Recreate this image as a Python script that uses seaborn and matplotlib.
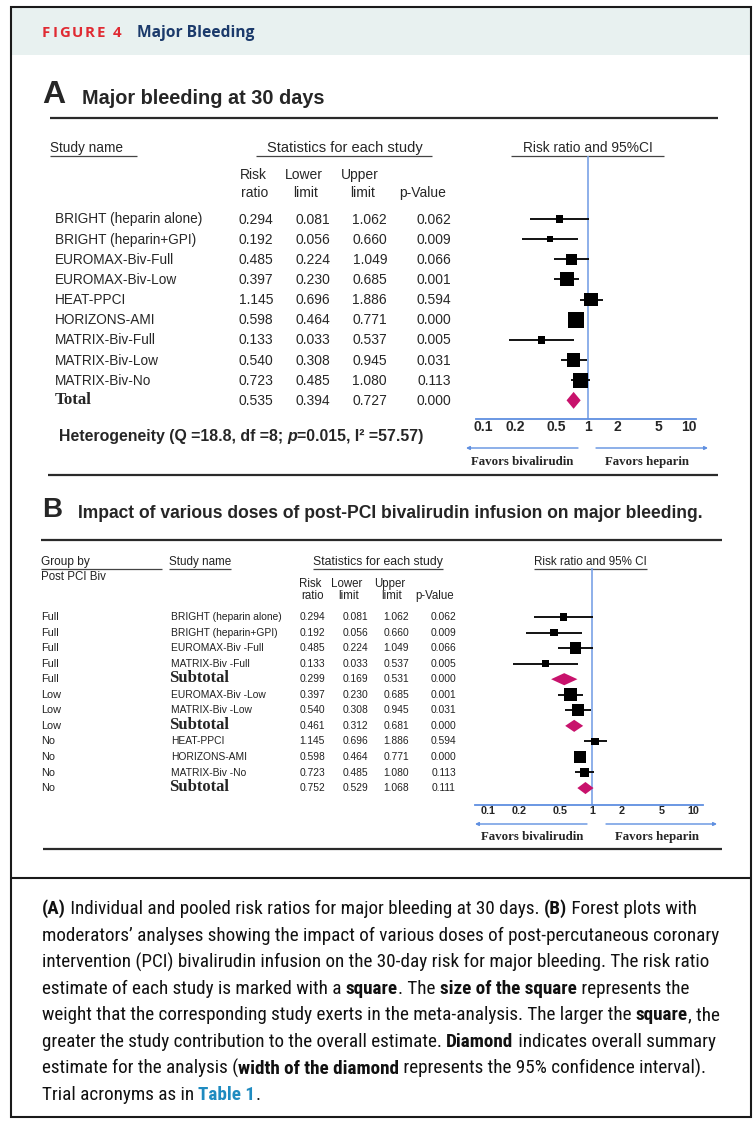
import numpy as np
import pandas as pd
import matplotlib
matplotlib.use("Agg")
import matplotlib.pyplot as plt
import seaborn as sns
from matplotlib import font_manager

# ------------------------------ data, panel A ------------------------------
studies_a = ["BRIGHT (heparin alone)", "BRIGHT (heparin+GPI)", "EUROMAX-Biv-Full",
             "EUROMAX-Biv-Low", "HEAT-PPCI", "HORIZONS-AMI", "MATRIX-Biv-Full",
             "MATRIX-Biv-Low", "MATRIX-Biv-No"]
rr_a = [0.294, 0.192, 0.485, 0.397, 1.145, 0.598, 0.133, 0.540, 0.723]
lo_a = [0.081, 0.056, 0.224, 0.230, 0.696, 0.464, 0.033, 0.308, 0.485]
hi_a = [1.062, 0.660, 1.049, 0.685, 1.886, 0.771, 0.537, 0.945, 1.080]
p_a = ["0.062", "0.009", "0.066", "0.001", "0.594", "0.000", "0.005", "0.031", "0.113"]
# relative weights
weight_a = [4.2, 3.5, 8.9, 15.3, 13.9, 19.3, 4.2, 13.9, 16.9]
total_a = [0.535, 0.394, 0.727]
total_p_a = "0.000"

# ------------------------------ data, panel B ------------------------------
group_b = ["Full", "Full", "Full", "Full", "Full", "Low", "Low", "Low", "No", "No", "No", "No"]
studies_b = ["BRIGHT (heparin alone)", "BRIGHT (heparin+GPI)", "EUROMAX-Biv -Full",
             "MATRIX-Biv -Full", "Subtotal", "EUROMAX-Biv -Low", "MATRIX-Biv -Low",
             "Subtotal", "HEAT-PPCI", "HORIZONS-AMI", "MATRIX-Biv -No", "Subtotal"]
rr_b = [0.294, 0.192, 0.485, 0.133, 0.299, 0.397, 0.540, 0.461, 1.145, 0.598, 0.723, 0.752]
lo_b = [0.081, 0.056, 0.224, 0.033, 0.169, 0.230, 0.308, 0.312, 0.696, 0.464, 0.485, 0.529]
hi_b = [1.062, 0.660, 1.049, 0.537, 0.531, 0.685, 0.945, 0.681, 1.886, 0.771, 1.080, 1.068]
p_b = ["0.062", "0.009", "0.066", "0.005", "0.000", "0.001", "0.031", "0.000",
       "0.594", "0.000", "0.113", "0.111"]
weight_b = [6.2, 6.9, 15.0, 5.7, np.nan, 18.8, 16.0, np.nan, 6.9, 15.0, 9.5, np.nan]

# axis labels as printed in the source (placed where the source prints them)
tick_labels = ["0.1", "0.2", "0.5", "1", "2", "5", "10"]
tick_dec = [-1.97, -1.38, -0.60, 0.0, 0.56, 1.32, 1.91]

caption = [
    [("(A)", "b"), (" Individual and pooled risk ratios for major bleeding at 30 days. ", ""), ("(B)", "b"), (" Forest plots with", "")],
    [("moderators\u2019 analyses showing the impact of various doses of post-percutaneous coronary", "")],
    [("intervention (PCI) bivalirudin infusion on the 30-day risk for major bleeding. The risk ratio", "")],
    [("estimate of each study is marked with a ", ""), ("square", "b"), (". The ", ""), ("size of the square", "b"), (" represents the", "")],
    [("weight that the corresponding study exerts in the meta-analysis. The larger the ", ""), ("square", "b"), (", the", "")],
    [("greater the study contribution to the overall estimate. ", ""), ("Diamond", "b"), (" indicates overall summary", "")],
    [("estimate for the analysis (", ""), ("width of the diamond", "b"), (" represents the 95% confidence interval).", "")],
    [("Trial acronyms as in ", ""), ("Table 1", "link"), (".", "")],
]

# ------------------------------ style ------------------------------
sns.set_style("white")
have = {f.name for f in font_manager.fontManager.ttflist}
SANS = "Liberation Sans"
SERIF = "Liberation Serif"
NARROW = next((n for n in ["Liberation Sans Narrow", "Roboto Condensed", "Open Sans Condensed",
                           "Roboto"] if n in have), "Open Sans")
HEAD = "Open Sans"
plt.rcParams["font.family"] = [SANS, "DejaVu Sans"]

BLUE = "#5f8fe0"
VLINE = "#7aa2e6"
PINK = "#c8126c"
RULE = "#2a2a2a"

W, H = 756, 1125
fig = plt.figure(figsize=(W / 100, H / 100), dpi=100)
bg = fig.add_axes([0, 0, 1, 1])
bg.set_xlim(0, W)
bg.set_ylim(H, 0)
bg.axis("off")
rend = fig.canvas.get_renderer()


def text_w(s, **kw):
    t = bg.text(0, 0, "|" + s + "|", **kw)
    w = t.get_window_extent(rend).width
    t.set_text("||")
    w -= t.get_window_extent(rend).width
    t.remove()
    return w


def fit(s, width, **kw):
    return 10 * width / text_w(s, fontsize=10, **kw)


def runs(x, y, parts, draw=True, **kw):
    for s, extra in parts:
        opts = dict(kw)
        opts.update(extra)
        if draw:
            bg.text(x, y, s, ha="left", va="center", **opts)
        x += text_w(s, **opts)
    return x


def hline(x0, x1, y, lw=1.0, color=RULE):
    bg.plot([x0, x1], [y, y], color=color, lw=lw, solid_capstyle="butt")


def arrow(x_from, x_to, y):
    bg.annotate("", xy=(x_to, y), xytext=(x_from, y),
                arrowprops=dict(arrowstyle="-|>", color=BLUE, lw=1.0,
                                mutation_scale=5, shrinkA=0, shrinkB=0))


# ------------------------------ frame + header band ------------------------------
bg.add_patch(plt.Rectangle((11, 7), 740, 48, facecolor="#e8f1f0", edgecolor="none"))
bg.add_patch(plt.Rectangle((11, 7), 740, 1110, fill=False, edgecolor="#1a1a1a", lw=1.5))
hline(11, 751, 878, lw=1.5, color="#1a1a1a")

x = 42
for ch in "FIGURE 4":
    bg.text(x, 33, ch, ha="left", va="center", fontsize=10.8, family=HEAD,
            fontweight="bold", color="#e02a32")
    x += text_w(ch, fontsize=10.8, family=HEAD, fontweight="bold") + 1.9
fs = fit("Major Bleeding", 118, family=HEAD, fontweight="bold")
bg.text(137, 33, "Major Bleeding", ha="left", va="center", fontsize=fs, family=HEAD,
        fontweight="bold", color="#1b3a6b")

# ------------------------------ panel A: text ------------------------------
bg.text(42, 95, "A", ha="left", va="center", fontsize=23, fontweight="bold")
fs = fit("Major bleeding at 30 days", 243, fontweight="bold")
bg.text(82, 98, "Major bleeding at 30 days", ha="left", va="center", fontsize=fs, fontweight="bold")
hline(50, 718, 118, lw=1.6)

for label, x0, x1, ha, tx, ul0, ul1 in [
        ("Study name", 50, 123, "left", 50, 50, 137),
        ("Statistics for each study", 267, 422, "center", 344.5, 256, 432),
        ("Risk ratio and 95%CI", 523, 653, "center", 588, 511, 664)]:
    fs = fit(label, x1 - x0)
    bg.text(tx, 148, label, ha=ha, va="center", fontsize=fs)
    hline(ul0, ul1, 156, lw=0.9, color="#444444")

for label, cx, y in [("Risk", 253, 175), ("Lower", 304, 175), ("Upper", 360, 175),
                     ("ratio", 255, 193), ("limit", 306, 193), ("limit", 363, 193),
                     ("p-Value", 423, 193)]:
    bg.text(cx, y, label, ha="center", va="center", fontsize=10)

ROW0_A, STEP_A = 219.5, 20.15
cols_a = [273, 330, 387, 451]
for i, name in enumerate(studies_a):
    y = ROW0_A + STEP_A * i
    bg.text(55, y, name, ha="left", va="center", fontsize=9.8)
    for cx, val in zip(cols_a, [f"{rr_a[i]:.3f}", f"{lo_a[i]:.3f}", f"{hi_a[i]:.3f}", p_a[i]]):
        bg.text(cx, y, val, ha="right", va="center", fontsize=10)
y = ROW0_A + STEP_A * len(studies_a)
bg.text(55, y - 1, "Total", ha="left", va="center", fontsize=12.2, family=SERIF, fontweight="bold")
for cx, val in zip(cols_a, [f"{v:.3f}" for v in total_a] + [total_p_a]):
    bg.text(cx, y, val, ha="right", va="center", fontsize=10)

het = [("Heterogeneity (Q =18.8, df =8; ", {}), ("p", {"fontstyle": "italic"}),
       ("=0.015, I\u00b2 =57.57)", {})]
fs = fit("Heterogeneity (Q =18.8, df =8; p=0.015, I\u00b2 =57.57)", 368, fontweight="bold")
runs(59, 436, het, fontsize=fs, fontweight="bold")

arrow(578, 466, 448)
arrow(596, 708, 448)
for label, cx in [("Favors bivalirudin", 522), ("Favors heparin", 647)]:
    bg.text(cx, 462, label, ha="center", va="center", fontsize=9.3, family=SERIF, fontweight="bold")
hline(48, 718, 475, lw=1.6)

# ------------------------------ panel B: text ------------------------------
bg.text(42, 510, "B", ha="left", va="center", fontsize=20, fontweight="bold")
title_b = "Impact of various doses of post-PCI bivalirudin infusion on major bleeding."
fs = fit(title_b, 627, fontweight="bold")
bg.text(78, 514, title_b, ha="left", va="center", fontsize=fs, fontweight="bold")
hline(41, 722, 540, lw=1.6)

for label, x0, x1, ha, tx, ul0, ul1 in [
        ("Group by", 41, 90, "left", 41, 41, 162),
        ("Study name", 169, 231, "left", 169, 169, 231),
        ("Statistics for each study", 313, 443, "center", 378, 313, 443),
        ("Risk ratio and 95% CI", 534, 647, "center", 590.5, 534, 647)]:
    fs = fit(label, x1 - x0)
    bg.text(tx, 562, label, ha=ha, va="center", fontsize=fs, color="#222222")
    hline(ul0, ul1, 568.5, lw=0.9, color="#444444")
bg.text(41, 577, "Post PCI Biv", ha="left", va="center", fontsize=8.3, color="#222222")
for label, cx, y in [("Risk", 310, 584), ("Lower", 347, 584), ("Upper", 390, 584),
                     ("ratio", 312, 596), ("limit", 349, 596), ("limit", 392, 596),
                     ("p-Value", 435, 596)]:
    bg.text(cx, y, label, ha="center", va="center", fontsize=8.3, color="#222222")

ROW0_B, STEP_B = 617, 15.55
cols_b = [325, 368, 409, 456]
for i, name in enumerate(studies_b):
    y = ROW0_B + STEP_B * i
    bg.text(41, y, group_b[i], ha="left", va="center", fontsize=7.8, color="#222222")
    if name == "Subtotal":
        bg.text(169, y - 1, name, ha="left", va="center", fontsize=12, family=SERIF, fontweight="bold")
    else:
        bg.text(171, y, name, ha="left", va="center", fontsize=7.4, color="#222222")
    for cx, val in zip(cols_b, [f"{rr_b[i]:.3f}", f"{lo_b[i]:.3f}", f"{hi_b[i]:.3f}", p_b[i]]):
        bg.text(cx, y, val, ha="right", va="center", fontsize=7.4, color="#222222")

arrow(587, 475, 824)
arrow(606, 717, 824)
for label, cx in [("Favors bivalirudin", 532), ("Favors heparin", 657)]:
    bg.text(cx, 837, label, ha="center", va="center", fontsize=9.3, family=SERIF, fontweight="bold")
hline(43, 722, 849, lw=1.6)

# ------------------------------ caption ------------------------------
styles = {"": {}, "b": {"fontweight": "bold"}, "link": {"fontweight": "bold", "color": "#1f8bc0"}}
widest = max(runs(0, 0, [(s, styles[k]) for s, k in line], draw=False, fontsize=10, family=NARROW)
             for line in caption)
fs = 10 * 674 / widest
for i, line in enumerate(caption):
    runs(42, 909 + 26.6 * i, [(s, styles[k]) for s, k in line],
         fontsize=fs, family=NARROW, color="#111111")


# ------------------------------ forest plots ------------------------------
def forest_axes(left, right, top, bottom, one_px, row0, step):
    ax = fig.add_axes([left / W, 1 - bottom / H, (right - left) / W, (bottom - top) / H])
    ax.set_facecolor("none")
    ax.set_xscale("log")
    ax.set_xlim(10 ** ((left - one_px) / 53), 10 ** ((right - one_px) / 53))
    ax.set_ylim((bottom - row0) / step, (top - row0) / step)
    for side in ["top", "left", "right"]:
        ax.spines[side].set_visible(False)
    ax.spines["bottom"].set_color(BLUE)
    ax.spines["bottom"].set_linewidth(1.3)
    ax.axvline(1, color=VLINE, lw=1.2, zorder=0)
    ax.set_yticks([])
    ax.minorticks_off()
    ax.set_xticks([10 ** d for d in tick_dec])
    ax.set_xticklabels(tick_labels)
    ax.tick_params(axis="x", length=0, pad=1)
    return ax


def diamond(ax, lo, mid, hi, y, half):
    ax.fill([lo, mid, hi, mid], [y, y - half, y, y + half], color=PINK, lw=0, zorder=3)


# panel A
axA = forest_axes(476, 696, 156, 419, 588, ROW0_A - 0.5, STEP_A)
dfA = pd.DataFrame({"rr": rr_a, "lo": lo_a, "hi": hi_a, "w": weight_a,
                    "row": np.arange(len(rr_a))})
axA.hlines(dfA["row"], dfA["lo"], dfA["hi"], color="black", lw=1.3, zorder=2)
sns.scatterplot(data=dfA, x="rr", y="row", size="w", sizes=(0, 6.62 * max(weight_a)),
                size_norm=(0, max(weight_a)), marker="s", color="black", linewidth=0,
                legend=False, ax=axA, zorder=3)
diamond(axA, total_a[1], total_a[0], total_a[2], len(rr_a), 0.42)
axA.set_xlabel("")
axA.set_ylabel("")
for t in axA.get_xticklabels():
    t.set_fontweight("bold")
    t.set_fontsize(10)

# panel B
axB = forest_axes(475, 703, 568, 805, 592, ROW0_B, STEP_B)
dfB = pd.DataFrame({"rr": rr_b, "lo": lo_b, "hi": hi_b, "w": weight_b,
                    "row": np.arange(len(rr_b)), "sub": [s == "Subtotal" for s in studies_b]})
st = dfB[~dfB["sub"]]
axB.hlines(st["row"], st["lo"], st["hi"], color="black", lw=1.3, zorder=2)
sns.scatterplot(data=st, x="rr", y="row", size="w", sizes=(0, 4.45 * st["w"].max()),
                size_norm=(0, st["w"].max()), marker="s", color="black", linewidth=0,
                legend=False, ax=axB, zorder=3)
for _, r in dfB[dfB["sub"]].iterrows():
    diamond(axB, r["lo"], r["rr"], r["hi"], r["row"], 0.39)
axB.set_xlabel("")
axB.set_ylabel("")
for t in axB.get_xticklabels():
    t.set_fontweight("bold")
    t.set_fontsize(7.8)

fig.savefig("out.png", dpi=100)
